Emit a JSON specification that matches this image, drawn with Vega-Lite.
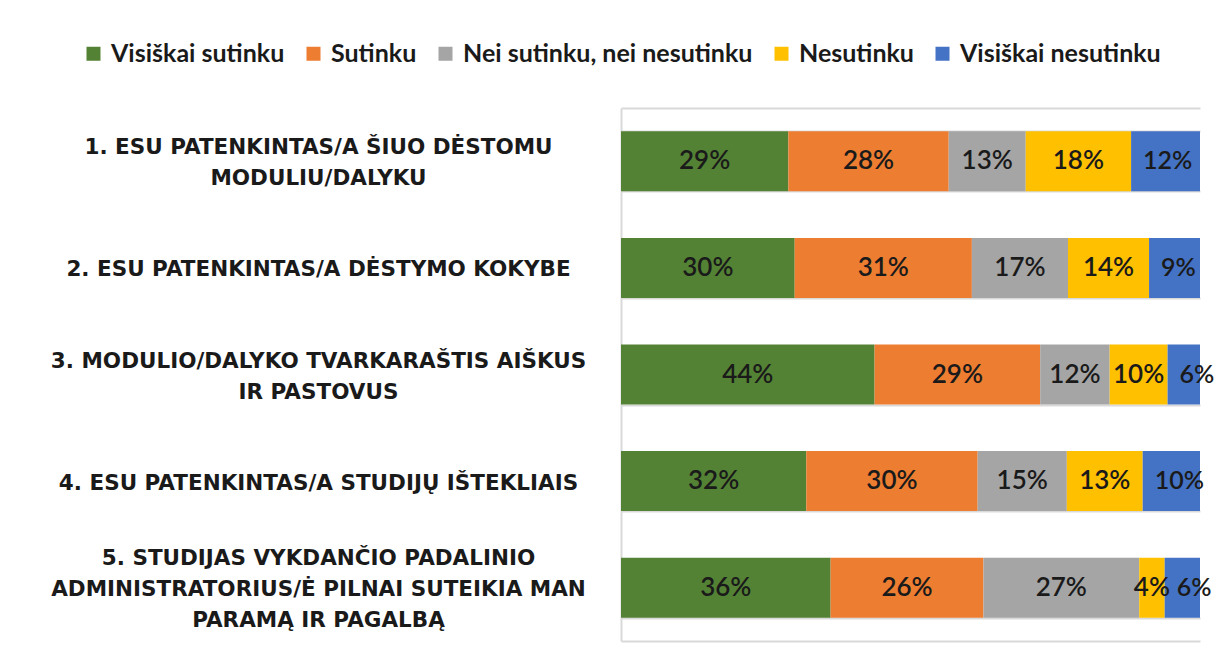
{
  "$schema": "https://vega.github.io/schema/vega-lite/v6.json",
  "autosize": "none",
  "width": 579,
  "height": 533,
  "padding": {"left": 621, "top": 108, "right": 18, "bottom": 21},
  "background": "white",
  "config": {"view": {"stroke": null}},
  "data": {
    "values": [
      {"q": "1. ESU PATENKINTAS/A ŠIUO DĖSTOMU|MODULIU/DALYKU", "resp": "Visiškai sutinku", "ord": 1, "v": 0.289},
      {"q": "1. ESU PATENKINTAS/A ŠIUO DĖSTOMU|MODULIU/DALYKU", "resp": "Sutinku", "ord": 2, "v": 0.277},
      {"q": "1. ESU PATENKINTAS/A ŠIUO DĖSTOMU|MODULIU/DALYKU", "resp": "Nei sutinku, nei nesutinku", "ord": 3, "v": 0.133},
      {"q": "1. ESU PATENKINTAS/A ŠIUO DĖSTOMU|MODULIU/DALYKU", "resp": "Nesutinku", "ord": 4, "v": 0.182},
      {"q": "1. ESU PATENKINTAS/A ŠIUO DĖSTOMU|MODULIU/DALYKU", "resp": "Visiškai nesutinku", "ord": 5, "v": 0.119},
      {"q": "2. ESU PATENKINTAS/A DĖSTYMO KOKYBE", "resp": "Visiškai sutinku", "ord": 1, "v": 0.300},
      {"q": "2. ESU PATENKINTAS/A DĖSTYMO KOKYBE", "resp": "Sutinku", "ord": 2, "v": 0.306},
      {"q": "2. ESU PATENKINTAS/A DĖSTYMO KOKYBE", "resp": "Nei sutinku, nei nesutinku", "ord": 3, "v": 0.166},
      {"q": "2. ESU PATENKINTAS/A DĖSTYMO KOKYBE", "resp": "Nesutinku", "ord": 4, "v": 0.140},
      {"q": "2. ESU PATENKINTAS/A DĖSTYMO KOKYBE", "resp": "Visiškai nesutinku", "ord": 5, "v": 0.088},
      {"q": "3. MODULIO/DALYKO TVARKARAŠTIS AIŠKUS|IR PASTOVUS", "resp": "Visiškai sutinku", "ord": 1, "v": 0.438},
      {"q": "3. MODULIO/DALYKO TVARKARAŠTIS AIŠKUS|IR PASTOVUS", "resp": "Sutinku", "ord": 2, "v": 0.286},
      {"q": "3. MODULIO/DALYKO TVARKARAŠTIS AIŠKUS|IR PASTOVUS", "resp": "Nei sutinku, nei nesutinku", "ord": 3, "v": 0.120},
      {"q": "3. MODULIO/DALYKO TVARKARAŠTIS AIŠKUS|IR PASTOVUS", "resp": "Nesutinku", "ord": 4, "v": 0.100},
      {"q": "3. MODULIO/DALYKO TVARKARAŠTIS AIŠKUS|IR PASTOVUS", "resp": "Visiškai nesutinku", "ord": 5, "v": 0.056},
      {"q": "4. ESU PATENKINTAS/A STUDIJŲ IŠTEKLIAIS", "resp": "Visiškai sutinku", "ord": 1, "v": 0.320},
      {"q": "4. ESU PATENKINTAS/A STUDIJŲ IŠTEKLIAIS", "resp": "Sutinku", "ord": 2, "v": 0.296},
      {"q": "4. ESU PATENKINTAS/A STUDIJŲ IŠTEKLIAIS", "resp": "Nei sutinku, nei nesutinku", "ord": 3, "v": 0.154},
      {"q": "4. ESU PATENKINTAS/A STUDIJŲ IŠTEKLIAIS", "resp": "Nesutinku", "ord": 4, "v": 0.131},
      {"q": "4. ESU PATENKINTAS/A STUDIJŲ IŠTEKLIAIS", "resp": "Visiškai nesutinku", "ord": 5, "v": 0.099},
      {"q": "5. STUDIJAS VYKDANČIO PADALINIO|ADMINISTRATORIUS/Ė PILNAI SUTEIKIA MAN|PARAMĄ IR PAGALBĄ", "resp": "Visiškai sutinku", "ord": 1, "v": 0.362},
      {"q": "5. STUDIJAS VYKDANČIO PADALINIO|ADMINISTRATORIUS/Ė PILNAI SUTEIKIA MAN|PARAMĄ IR PAGALBĄ", "resp": "Sutinku", "ord": 2, "v": 0.264},
      {"q": "5. STUDIJAS VYKDANČIO PADALINIO|ADMINISTRATORIUS/Ė PILNAI SUTEIKIA MAN|PARAMĄ IR PAGALBĄ", "resp": "Nei sutinku, nei nesutinku", "ord": 3, "v": 0.269},
      {"q": "5. STUDIJAS VYKDANČIO PADALINIO|ADMINISTRATORIUS/Ė PILNAI SUTEIKIA MAN|PARAMĄ IR PAGALBĄ", "resp": "Nesutinku", "ord": 4, "v": 0.044},
      {"q": "5. STUDIJAS VYKDANČIO PADALINIO|ADMINISTRATORIUS/Ė PILNAI SUTEIKIA MAN|PARAMĄ IR PAGALBĄ", "resp": "Visiškai nesutinku", "ord": 5, "v": 0.061}
    ]
  },
  "encoding": {
    "y": {
      "field": "q",
      "type": "nominal",
      "sort": null,
      "title": null,
      "scale": {"paddingInner": 0.437, "paddingOuter": 0.2185},
      "axis": {
        "labelExpr": "split(datum.label, '|')",
        "labelAlign": "center",
        "labelBaseline": "middle",
        "labelPadding": 303,
        "labelLimit": 800,
        "labelLineHeight": 31,
        "labelOffset": {
          "condition": [
            {"test": "length(split(datum.value, '|')) == 3", "value": -29},
            {"test": "length(split(datum.value, '|')) == 2", "value": -13.5}
          ],
          "value": 2
        },
        "labelFont": "DejaVu Sans",
        "labelFontWeight": "bold",
        "labelFontSize": 21.5,
        "labelColor": "#1a1a1a",
        "ticks": false,
        "tickSize": 0,
        "tickBand": "extent",
        "grid": true,
        "gridColor": "#d9d9d9",
        "gridWidth": 2,
        "domain": true,
        "domainColor": "#d9d9d9",
        "domainWidth": 2
      }
    }
  },
  "resolve": {"axis": {"x": "independent"}},
  "layer": [
    {
      "mark": {"type": "bar"},
      "encoding": {
        "x": {
          "field": "v",
          "type": "quantitative",
          "stack": "normalize",
          "axis": {"labels": false, "ticks": false, "grid": false, "title": null, "domain": true, "domainColor": "#d9d9d9", "domainWidth": 2}
        },
        "order": {"field": "ord", "type": "quantitative"},
        "color": {
          "field": "resp",
          "type": "nominal",
          "sort": ["Visiškai sutinku", "Sutinku", "Nei sutinku, nei nesutinku", "Nesutinku", "Visiškai nesutinku"],
          "scale": {
            "domain": ["Visiškai sutinku", "Sutinku", "Nei sutinku, nei nesutinku", "Nesutinku", "Visiškai nesutinku"],
            "range": ["#548235", "#ED7D31", "#A5A5A5", "#FFC000", "#4472C4"]
          },
          "legend": {
            "orient": "none",
            "legendX": -540,
            "legendY": -67,
            "direction": "horizontal",
            "title": null,
            "symbolType": "square",
            "symbolSize": 196,
            "symbolStrokeWidth": 0,
            "labelFont": "Lato",
            "labelFontWeight": "bold",
            "labelFontSize": 25,
            "labelColor": "#1a1a1a",
            "labelOffset": 5,
            "columnPadding": 16,
            "labelLimit": 400
          }
        }
      }
    },
    {
      "transform": [{"filter": "datum.resp !== 'Visiškai nesutinku'"}],
      "mark": {"type": "text", "font": "Lato", "fontSize": 26, "fontWeight": 600, "color": "#1a1a1a", "baseline": "middle", "align": "center"},
      "encoding": {
        "x": {
          "field": "v",
          "type": "quantitative",
          "stack": "zero",
          "bandPosition": 0.5,
          "axis": {"orient": "top", "labels": false, "ticks": false, "grid": false, "title": null, "domain": true, "domainColor": "#d9d9d9", "domainWidth": 2}
        },
        "order": {"field": "ord", "type": "quantitative"},
        "text": {"field": "v", "type": "quantitative", "format": ".0%"},
        "detail": {"field": "resp"}
      }
    },
    {
      "transform": [
        {"stack": "v", "groupby": ["q"], "sort": [{"field": "ord", "order": "ascending"}], "offset": "normalize", "as": ["s0", "s1"]},
        {"filter": "datum.resp === 'Visiškai nesutinku'"}
      ],
      "mark": {"type": "text", "font": "Lato", "fontSize": 25, "fontWeight": 600, "color": "#1a1a1a", "baseline": "middle", "align": "left", "dx": 12},
      "encoding": {
        "x": {"field": "s0", "type": "quantitative", "axis": null},
        "text": {"field": "v", "type": "quantitative", "format": ".0%"}
      }
    }
  ]
}
